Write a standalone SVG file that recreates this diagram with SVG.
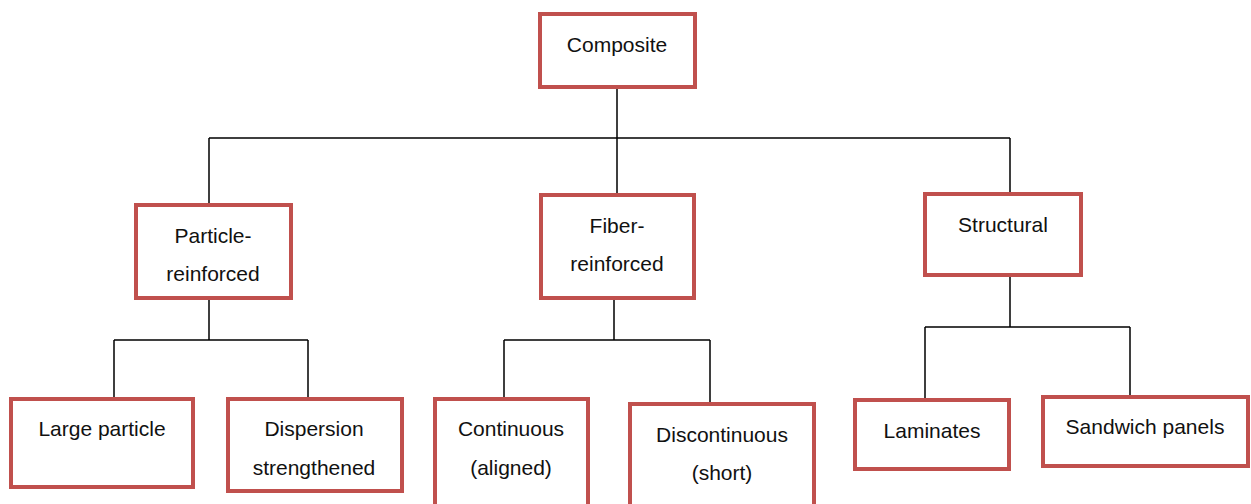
<svg xmlns="http://www.w3.org/2000/svg" width="1251" height="504" viewBox="0 0 1251 504">
<style>
.box{fill:#fff;stroke:#c0504d;stroke-width:4}
.t{font-family:"Liberation Sans",Arial,sans-serif;font-size:21px;fill:#111;text-anchor:middle}
.c{fill:none;stroke:#000;stroke-width:1.5}
</style>
<rect width="1251" height="504" fill="#fff"/>
<g id="connectors">
<path class="c" d="M617 87V138M209 138H1010M209 138V205M617 138V193M1010 138V192"/>
<path class="c" d="M209 298V340M114 340H308M114 340V397M308 340V397"/>
<path class="c" d="M614 298V340M504 340H710M504 340V397M710 340V402"/>
<path class="c" d="M1010 277V327M925 327H1130M925 327V398M1130 327V395"/>
</g>
<g id="composite"><rect class="box" x="540" y="14" width="155" height="73"/><text class="t" x="617" y="52">Composite</text></g>
<g id="particle"><rect class="box" x="136" y="205" width="155" height="93"/><text class="t" x="213" y="243">Particle-</text><text class="t" x="213" y="281">reinforced</text></g>
<g id="fiber"><rect class="box" x="541" y="195" width="153" height="103"/><text class="t" x="617" y="233">Fiber-</text><text class="t" x="617" y="271">reinforced</text></g>
<g id="structural"><rect class="box" x="925" y="194" width="156" height="81"/><text class="t" x="1003" y="232">Structural</text></g>
<g id="large"><rect class="box" x="11" y="399" width="182" height="88"/><text class="t" x="102" y="436">Large particle</text></g>
<g id="dispersion"><rect class="box" x="228" y="399" width="174" height="92"/><text class="t" x="314" y="436">Dispersion</text><text class="t" x="314" y="475">strengthened</text></g>
<g id="continuous"><rect class="box" x="435" y="399" width="153" height="110"/><text class="t" x="511" y="436">Continuous</text><text class="t" x="511" y="475">(aligned)</text></g>
<g id="discontinuous"><rect class="box" x="630" y="404" width="184" height="105"/><text class="t" x="722" y="442">Discontinuous</text><text class="t" x="722" y="480">(short)</text></g>
<g id="laminates"><rect class="box" x="855" y="400" width="154" height="69"/><text class="t" x="932" y="438">Laminates</text></g>
<g id="sandwich"><rect class="box" x="1043" y="397" width="205" height="69"/><text class="t" x="1145" y="434">Sandwich panels</text></g>
</svg>
